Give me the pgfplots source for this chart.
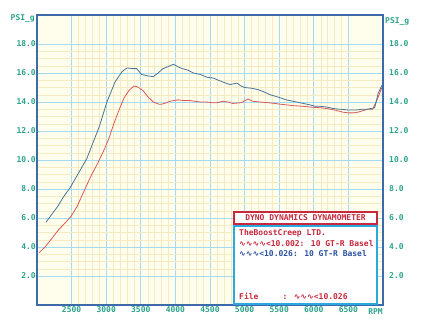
\documentclass[border=0pt]{standalone}
\usepackage{fontspec}
\usepackage{pgfplots}
\pgfplotsset{compat=1.18}
\newfontfamily\mono{DejaVu Sans Mono}
\newfontfamily\symf{DejaVu Sans}
\definecolor{bgyellow}{HTML}{FFFDEC}
\definecolor{gridyellow}{HTML}{F6EBC0}
\definecolor{gridblue}{HTML}{A6DAF2}
\definecolor{axisblue}{HTML}{3D6AA8}
\definecolor{tickteal}{HTML}{2AA38C}
\definecolor{bluecurve}{HTML}{46759A}
\definecolor{redcurve}{HTML}{DA5A5A}
\definecolor{boxred}{HTML}{C8283C}
\definecolor{boxblue}{HTML}{2AA8E0}
\definecolor{textblue}{HTML}{2A50A0}
\newcommand{\lab}{\fontsize{8}{9}\selectfont\mono\bfseries}
\begin{document}
\begin{tikzpicture}[x=1pt,y=1pt]
\useasboundingbox (0,0) rectangle (425,323);
\begin{axis}[
  at={(37pt,18pt)}, anchor=south west,
  scale only axis, width=346pt, height=290pt,
  xmin=2000, xmax=7000, ymin=0, ymax=20,
  xtick={2500,3000,...,6500}, minor x tick num=4,
  ytick={2,4,...,18}, minor y tick num=3,
  grid=both,
  major grid style={color=gridblue, line width=0.7pt},
  minor grid style={color=gridyellow, line width=0.35pt},
  axis background/.style={fill=bgyellow},
  axis line style={color=axisblue, line width=1.3pt},
  major tick length=0pt, minor tick length=0pt,
  /pgf/number format/assume math mode=true,
  xticklabel={\pgfmathprintnumber[fixed,1000 sep={}]{\tick}},
  yticklabel={\pgfmathprintnumber[fixed,fixed zerofill,precision=1]{\tick}},
  ticklabel style={font=\lab, color=tickteal},
  yticklabel style={inner sep=1pt},
  xticklabel style={inner sep=1pt},
  clip=false,
]
\addplot[color=redcurve, line width=0.8pt] coordinates {
(2030,3.6) (2115,4.0) (2200,4.5) (2313,5.2) (2375,5.5) (2490,6.1) (2580,6.8)
(2665,7.7) (2780,8.9) (2880,9.8) (2970,10.7) (3040,11.5) (3110,12.5) (3190,13.5)
(3260,14.3) (3330,14.8) (3400,15.1) (3450,15.05) (3530,14.8) (3605,14.35)
(3680,14.0) (3760,13.85) (3805,13.85) (3870,13.95) (3920,14.05) (4040,14.15)
(4120,14.1) (4210,14.1) (4280,14.05) (4355,14.0) (4450,14.0) (4520,13.95)
(4600,13.95) (4690,14.05) (4760,14.0) (4830,13.9) (4950,13.95) (5050,14.2)
(5120,14.05) (5220,14.0) (5340,13.95) (5440,13.9) (5510,13.85) (5700,13.75)
(5850,13.7) (5950,13.65) (6100,13.6) (6190,13.55) (6300,13.45) (6420,13.3)
(6500,13.25) (6570,13.25) (6640,13.3) (6710,13.4) (6780,13.5) (6850,13.5)
(6910,14.1) (6985,15.0)
};
\addplot[color=bluecurve, line width=0.8pt] coordinates {
(2130,5.7) (2190,6.1) (2300,6.8) (2375,7.4) (2480,8.1) (2600,9.1) (2720,10.1)
(2900,12.3) (3010,14.0) (3130,15.4) (3230,16.1) (3300,16.35) (3390,16.3)
(3440,16.3) (3510,15.9) (3600,15.8) (3680,15.75) (3750,16.0) (3820,16.3)
(3900,16.45) (3970,16.6) (4030,16.45) (4100,16.3) (4180,16.2) (4260,16.0)
(4360,15.9) (4460,15.7) (4550,15.65) (4620,15.5) (4700,15.35) (4790,15.2)
(4890,15.3) (4950,15.1) (5000,15.0) (5100,14.95) (5195,14.85) (5280,14.7)
(5370,14.5) (5440,14.4) (5510,14.3) (5600,14.15) (5700,14.05) (5800,13.95)
(5945,13.8) (6020,13.7) (6100,13.7) (6190,13.65) (6280,13.55) (6380,13.5)
(6500,13.45) (6620,13.45) (6700,13.5) (6770,13.5) (6880,13.6) (6930,14.6)
(6990,15.2)
};
\node[anchor=north east, font=\lab, color=tickteal, inner sep=0pt] at ([xshift=-2pt,yshift=1pt]rel axis cs:0,1) {PSI\_g};
\node[anchor=north west, font=\lab, color=tickteal, inner sep=0pt] at ([xshift=2pt,yshift=-2pt]rel axis cs:1,1) {PSI\_g};
\node[anchor=north east, font=\lab, color=tickteal, inner sep=0pt] at ([xshift=0pt,yshift=-3pt]rel axis cs:1,0) {RPM};
\end{axis}
\begin{axis}[
  at={(37pt,18pt)}, anchor=south west,
  scale only axis, width=346pt, height=290pt,
  xmin=2000, xmax=7000, ymin=0, ymax=20,
  hide x axis, axis y line*=right,
  ytick={2,4,...,18},
  major tick length=0pt,
  axis line style={color=axisblue, line width=1.3pt},
  /pgf/number format/assume math mode=true,
  yticklabel={\pgfmathprintnumber[fixed,fixed zerofill,precision=1]{\tick}},
  yticklabel style={font=\lab, color=tickteal, inner sep=1pt, xshift=5pt},
]
\addplot[draw=none] coordinates {(2000,0) (7000,20)};
\end{axis}
% legend boxes
\draw[boxred, line width=1.2pt, fill=white] (234,99) rectangle (377,111);
\node[font=\lab, color=boxred, inner sep=0pt] at (305.5,105) {DYNO DYNAMICS DYNAMOMETER};
\draw[boxblue, line width=1.2pt, fill=white] (234,19) rectangle (377,97);
\node[font=\lab, color=boxred, anchor=west, inner sep=0pt] at (239,90) {TheBoostCreep LTD.};
\node[font=\lab, color=boxred, anchor=west, inner sep=0pt] at (239,79) {{\symf\fontsize{8}{9}\selectfont ∿∿∿∿}\textless10.002: 10 GT-R Basel};
\node[font=\lab, color=textblue, anchor=west, inner sep=0pt] at (239,69) {{\symf\fontsize{8}{9}\selectfont ∿∿∿}\textless10.026: 10 GT-R Basel};
\node[font=\lab, color=boxred, anchor=west, inner sep=0pt] at (239,27) {File{\ }{\ }{\ }{\ }{\ }: {\symf\fontsize{8}{9}\selectfont ∿∿∿}\textless10.026};
\end{tikzpicture}
\end{document}
